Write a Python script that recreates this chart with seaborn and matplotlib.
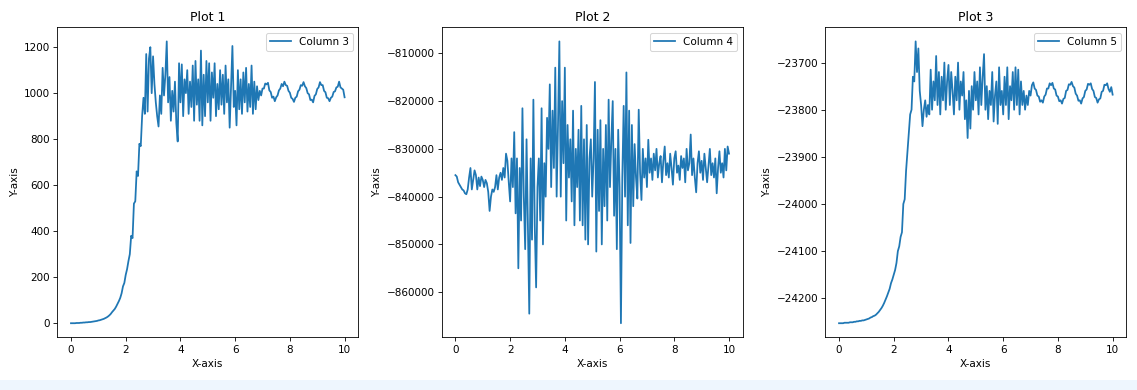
import numpy as np
import seaborn as sns
import matplotlib.pyplot as plt
from matplotlib.patches import Rectangle

# x grid: 0 .. 10 in steps of 0.05
x_vals = np.linspace(0, 10, 201)

# values
col3 = [
    0, 0, 0, 0, 1, 1, 1, 2, 2, 3, 3, 4, 4, 5, 5, 6, 7, 8, 9, 10, 12,
    13, 15, 17, 19, 22, 25, 29, 34, 40, 48,
    55, 62, 72, 84, 96, 110, 130, 160, 175, 210,
    235, 270, 300, 380, 370, 520, 530, 660, 640, 780,
    770, 900, 980, 910, 1170, 920, 1150, 1200, 1000, 1160,
    1040, 960, 900, 855, 990, 910, 1110, 990, 1080, 1225,
    960, 1070, 880, 1010, 920, 1050, 870, 790, 1130, 960,
    1125, 900, 1060, 1000, 1100, 910, 1050, 940, 1120, 880,
    1140, 950, 1060, 880, 1185, 860, 1080, 900, 1140, 960,
    1130, 880, 1090, 980, 1130, 900, 1040, 930, 1100, 950,
    1080, 910, 1120, 960, 1060, 850, 1030, 1205, 940, 1010,
    860, 1100, 930, 1060, 910, 1090, 960, 1110, 920, 1040,
    940, 1120, 910, 1050, 930, 1030, 970, 1010, 990, 1020,
    1020, 1042, 1038, 1045, 1012, 1005, 980, 985, 965, 982,
    990, 1012, 1020, 1040, 1030, 1050, 1035, 1032, 1010, 1002,
    980, 975, 962, 980, 985, 1008, 1015, 1035, 1032, 1048,
    1030, 1022, 1000, 995, 970, 972, 960, 988, 995, 1018,
    1025, 1048, 1035, 1035, 1010, 1004, 980, 978, 965, 980,
    985, 1005, 1008, 1025, 1028, 1050, 1025, 1020, 1015, 982,
]

col4 = [
    -835500, -835800, -837000, -837500, -838000, -838500, -838700, -839300, -839500, -838500,
    -836000, -834000, -838500, -836500, -834500, -835500, -838500, -836000, -837800, -835800, -836500,
    -838000, -836500, -837200, -839000, -843000, -840000, -838500, -839000, -838000, -835500,
    -838500, -836000, -835000, -836500, -834000, -836000, -831000, -832500, -837000, -841000,
    -832000, -838000, -826500, -843500, -832000, -855000, -834000, -845000, -821500, -840000,
    -851000, -828000, -847000, -864500, -832000, -849000, -819700, -846000, -859000, -838000,
    -832000, -845000, -821500, -850000, -833000, -840000, -823500, -830000, -816500, -838000,
    -822000, -834000, -813000, -840000, -825000, -807500, -840000, -820000, -833000, -813000,
    -845000, -825000, -836000, -828000, -841000, -822000, -846000, -830000, -838000, -826000,
    -845000, -821000, -846000, -828000, -849000, -825000, -850000, -832000, -828000, -840000,
    -832000, -816000, -851500, -826000, -843000, -824000, -850000, -830000, -842000, -825000,
    -845000, -819700, -838000, -828000, -820000, -844000, -830000, -851000, -826000, -838000,
    -866500, -836000, -821000, -840000, -814000, -846000, -822000, -849700, -825000, -842000,
    -829000, -836000, -840400, -821800, -835000, -840700, -830000, -836000, -832000, -838000,
    -828100, -835000, -832000, -836500, -831000, -834500, -830000, -836000, -833000, -831500,
    -837000, -832500, -829500, -835500, -833000, -836000, -831000, -834000, -837500, -832000,
    -830500, -835000, -833500, -836500, -831500, -834000, -832000, -837000, -830000, -834500,
    -833000, -827000, -835500, -832000, -836000, -839100, -833000, -830500, -835000, -832500,
    -836500, -831000, -834000, -837000, -833500, -830000, -835500, -833000, -836000, -832000,
    -839300, -834000, -830500, -835000, -833000, -836000, -830000, -834500, -829500, -831000,
]

col5 = [
    -24253, -24253, -24253, -24253, -24252, -24252, -24252, -24252, -24251, -24251,
    -24251, -24250, -24250, -24249, -24249, -24248, -24248, -24247, -24247, -24246, -24245,
    -24244, -24243, -24241, -24240, -24238, -24237, -24235, -24232, -24229, -24225,
    -24221, -24216, -24210, -24203, -24196, -24188, -24180, -24168, -24160, -24150,
    -24140, -24125, -24100, -24090, -24070, -24060, -24000, -23990, -23930, -23890,
    -23850, -23810, -23800, -23730, -23740, -23655, -23720, -23670, -23760, -23790,
    -23835, -23800, -23780, -23815, -23790, -23810, -23715, -23800, -23740, -23780,
    -23686, -23790, -23720, -23810, -23730, -23780, -23700, -23800, -23740, -23705,
    -23790, -23720, -23760, -23810, -23730, -23780, -23700, -23800, -23740, -23770,
    -23720, -23820, -23780, -23860, -23760, -23840, -23750, -23800, -23720, -23780,
    -23740, -23810, -23710, -23790, -23730, -23682, -23800, -23750, -23820, -23760,
    -23790, -23720, -23825, -23770, -23740, -23830, -23710, -23790, -23760, -23810,
    -23730, -23790, -23710, -23820, -23750, -23780, -23720, -23800, -23710, -23790,
    -23715, -23810, -23740, -23790, -23760, -23800, -23770, -23790, -23760, -23770,
    -23748, -23742, -23755, -23758, -23770, -23772, -23783, -23780, -23785, -23772,
    -23768, -23755, -23755, -23744, -23748, -23743, -23755, -23757, -23770, -23772,
    -23782, -23780, -23787, -23777, -23775, -23760, -23758, -23746, -23747, -23741,
    -23750, -23753, -23766, -23770, -23781, -23780, -23787, -23776, -23773, -23760,
    -23757, -23745, -23747, -23744, -23756, -23760, -23773, -23775, -23785, -23778,
    -23776, -23762, -23760, -23747, -23748, -23744, -23756, -23762, -23752, -23768,
]

series = [col3, col4, col5]
labels = ['Column 3', 'Column 4', 'Column 5']
titles = ['Plot 1', 'Plot 2', 'Plot 3']

# drawn at 75 dpi so text and lines come out at the reference's scale
fig = plt.figure(figsize=(1137 / 75, 390 / 75), dpi=75)
lefts = [0.0504, 0.3885, 0.7259]
for left, ys, lab, title in zip(lefts, series, labels, titles):
    ax = fig.add_axes([left, 0.1351, 0.2647, 0.7949])
    sns.lineplot(x=x_vals, y=np.array(ys), ax=ax, label=lab,
                 estimator=None, color='#1f77b4', linewidth=1.7)
    ax.set_title(title)
    ax.set_xlabel('X-axis')
    ax.set_ylabel('Y-axis')
    ax.legend(loc='upper right')

# light strip along the bottom edge
fig.patches.append(Rectangle((0, 0), 1, 10 / 390, transform=fig.transFigure,
                             facecolor='#eef6fe', edgecolor='none', zorder=-1))

fig.savefig('out.png', dpi=75)
